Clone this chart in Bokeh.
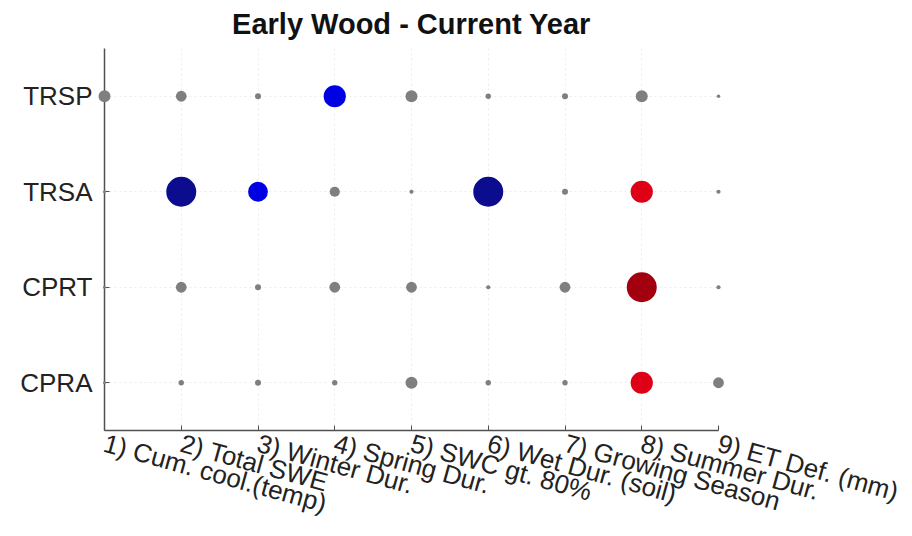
from bokeh.plotting import figure
from bokeh.models import ColumnDataSource, FixedTicker, FactorRange, Range1d
from bokeh.embed import file_html
from bokeh.resources import INLINE

# ---- data ----
species = ["CPRA", "CPRT", "TRSA", "TRSP"]          # bottom -> top
variables = [1, 2, 3, 4, 5, 6, 7, 8, 9]
var_labels = ["1) Cum. cool.(temp)", "2) Total SWE", "3) Winter Dur.",
              "4) Spring Dur.", "5) SWC gt. 80%", "6) Wet Dur. (soil)",
              "7) Growing Season", "8) Summer Dur.", "9) ET Def. (mm)"]
# correlation per species (signed), and significance flags
corr_TRSP = [0.20, 0.18, 0.10, -0.37, 0.20, 0.09, 0.10, 0.20, 0.06]
corr_TRSA = [0.05, -0.50, -0.33, 0.17, 0.07, -0.50, 0.10, 0.37, 0.07]
corr_CPRT = [0.05, 0.18, 0.10, 0.18, 0.18, 0.07, 0.18, 0.50, 0.07]
corr_CPRA = [0.05, 0.09, 0.10, 0.09, 0.20, 0.09, 0.09, 0.37, 0.18]
sig_TRSP = [0, 0, 0, 1, 0, 0, 0, 0, 0]
sig_TRSA = [0, 1, 1, 0, 0, 1, 0, 1, 0]
sig_CPRT = [0, 0, 0, 0, 0, 0, 0, 1, 0]
sig_CPRA = [0, 0, 0, 0, 0, 0, 0, 1, 0]

corr = {"TRSP": corr_TRSP, "TRSA": corr_TRSA, "CPRT": corr_CPRT, "CPRA": corr_CPRA}
sig = {"TRSP": sig_TRSP, "TRSA": sig_TRSA, "CPRT": sig_CPRT, "CPRA": sig_CPRA}


def colour(r, s):
    if not s:
        return "#7f7f7f"
    if r < 0:
        return "#0c0c8e" if abs(r) >= 0.45 else "#0000e4"
    return "#a3000f" if abs(r) >= 0.45 else "#dd0016"


xs, ys, sizes, colors = [], [], [], []
for sp in species:
    for v, r, s in zip(variables, corr[sp], sig[sp]):
        xs.append(v)
        ys.append(sp)
        sizes.append(60 * abs(r))
        colors.append(colour(r, s))

src = ColumnDataSource(dict(x=xs, y=ys, size=sizes, color=colors))

FONT = "Liberation Sans"

p = figure(width=904, height=536, output_backend="svg", toolbar_location=None,
           x_range=Range1d(1, 9), y_range=FactorRange(*species, range_padding=0),
           min_border_left=104, min_border_right=186, min_border_top=48,
           min_border_bottom=106, title="Early Wood - Current Year")
p.outline_line_color = None
p.background_fill_color = "white"

p.title.text_font = FONT
p.title.text_font_size = "29px"
p.title.text_font_style = "bold"
p.title.align = "center"
p.title.vertical_align = "top"
p.title.text_color = "#111111"
p.title.standoff = 14

r = p.scatter("x", "y", size="size", color="color", source=src, line_width=0)
r.level = "overlay"

p.xaxis.ticker = FixedTicker(ticks=variables)
p.xaxis.major_label_overrides = {v: l for v, l in zip(variables, var_labels)}
p.xaxis.major_label_orientation = -0.27
for ax in (p.xaxis[0], p.yaxis[0]):
    ax.axis_line_color = "#505050"
    ax.axis_line_width = 1.5
    ax.major_tick_line_color = "#505050"
    ax.major_tick_in = 5
    ax.major_tick_out = 0
    ax.minor_tick_line_color = None
    ax.major_label_text_font = FONT
    ax.major_label_text_font_size = "26px"
    ax.major_label_text_color = "#222222"
p.yaxis.major_label_standoff = 12
p.xaxis.major_label_standoff = 12

p.xgrid.grid_line_color = "#ececec"
p.xgrid.grid_line_dash = "2 3"
p.ygrid.grid_line_color = "#ececec"
p.ygrid.grid_line_dash = "2 3"

open("out.html", "w").write(file_html(p, INLINE))
